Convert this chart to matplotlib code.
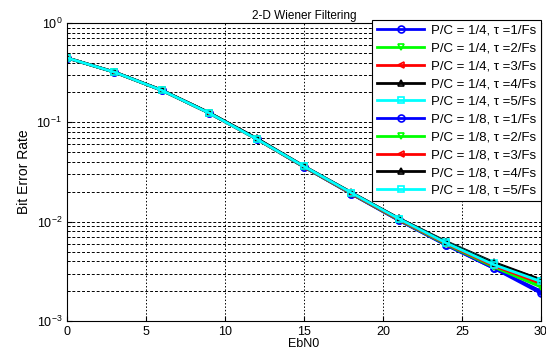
import matplotlib.pyplot as plt
import numpy as np

plt.rcParams['font.family'] = ['Liberation Sans', 'DejaVu Sans']

# ==========================================
# DATA
# ==========================================
ebn0 = [0, 3, 6, 9, 12, 15, 18, 21, 24, 27, 30]

ber_14_t1 = [0.445, 0.320, 0.210, 0.124, 0.068, 0.0355, 0.0190, 0.0103, 0.0058, 0.0034, 0.0020]
ber_14_t2 = [0.445, 0.320, 0.210, 0.124, 0.068, 0.0357, 0.0192, 0.0105, 0.0060, 0.0036, 0.0023]
ber_14_t3 = [0.445, 0.320, 0.210, 0.124, 0.068, 0.0357, 0.0193, 0.0105, 0.0060, 0.0036, 0.0024]
ber_14_t4 = [0.445, 0.321, 0.211, 0.125, 0.069, 0.0362, 0.0197, 0.0108, 0.0063, 0.0039, 0.0026]
ber_14_t5 = [0.445, 0.320, 0.210, 0.124, 0.068, 0.0360, 0.0195, 0.0107, 0.0062, 0.0038, 0.0025]
ber_18_t1 = [0.445, 0.320, 0.210, 0.124, 0.068, 0.0355, 0.0190, 0.0103, 0.0058, 0.0034, 0.0019]
ber_18_t2 = [0.445, 0.320, 0.210, 0.124, 0.068, 0.0356, 0.0191, 0.0104, 0.0059, 0.0035, 0.0022]
ber_18_t3 = [0.445, 0.320, 0.210, 0.124, 0.068, 0.0357, 0.0192, 0.0105, 0.0060, 0.0036, 0.0024]
ber_18_t4 = [0.445, 0.321, 0.211, 0.125, 0.069, 0.0361, 0.0196, 0.0108, 0.0062, 0.0038, 0.0026]
ber_18_t5 = [0.445, 0.320, 0.210, 0.124, 0.068, 0.0360, 0.0195, 0.0107, 0.0061, 0.0037, 0.0025]

series = [
    ("P/C = 1/4, τ =1/Fs", ber_14_t1),
    ("P/C = 1/4, τ =2/Fs", ber_14_t2),
    ("P/C = 1/4, τ =3/Fs", ber_14_t3),
    ("P/C = 1/4, τ =4/Fs", ber_14_t4),
    ("P/C = 1/4, τ =5/Fs", ber_14_t5),
    ("P/C = 1/8, τ =1/Fs", ber_18_t1),
    ("P/C = 1/8, τ =2/Fs", ber_18_t2),
    ("P/C = 1/8, τ =3/Fs", ber_18_t3),
    ("P/C = 1/8, τ =4/Fs", ber_18_t4),
    ("P/C = 1/8, τ =5/Fs", ber_18_t5),
]

styles = [("#0000ff", "o"), ("#00ff00", "v"), ("#ff0000", "<"),
          ("#000000", "^"), ("#00ffff", "s")] * 2

# ==========================================
# PLOT
# ==========================================
fig = plt.figure(figsize=(5.46, 3.58), dpi=100)
ax = fig.add_axes([0.1227, 0.1034, 0.868, 0.8324])

for (label, vals), (c, m) in zip(series, styles):
    ax.semilogy(ebn0, vals, color=c, marker=m, markersize=5, markerfacecolor='none',
                markeredgewidth=1.2, linewidth=2, label=label)

ax.set_xlim(0, 30)
ax.set_ylim(1e-3, 1)
ax.set_xticks([0, 5, 10, 15, 20, 25, 30])
ax.grid(True, which='major', axis='x', color='black', linestyle=(0, (1.5, 2)), linewidth=0.7)
ax.grid(True, which='both', axis='y', color='black', linestyle=(0, (3, 2)), linewidth=0.7)

ax.set_title("2-D Wiener Filtering", fontsize=8.5, pad=3)
ax.set_xlabel("EbN0", fontsize=9, labelpad=0)
ax.set_ylabel("Bit Error Rate", fontsize=10)
ax.tick_params(labelsize=9, direction='in', which='both')
ax.tick_params(which='minor', length=2)

leg = ax.legend(loc='upper right', fontsize=9.5, frameon=True, fancybox=False,
                edgecolor='black', framealpha=1, handlelength=3.6, handletextpad=0.5,
                labelspacing=0.42, borderaxespad=0.0, borderpad=0.35,
                bbox_to_anchor=(1.0, 1.01))
leg.get_frame().set_linewidth(0.8)

fig.savefig("out.png", dpi=100)
